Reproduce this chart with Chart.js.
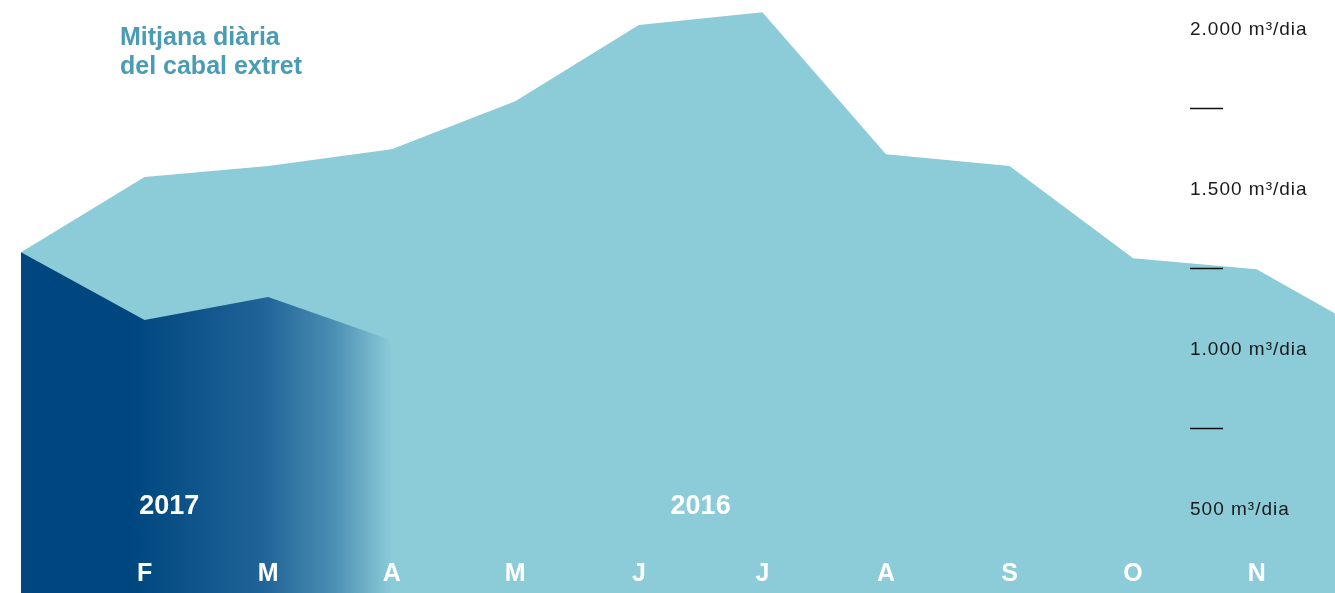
<!DOCTYPE html>
<html lang="ca">
<head>
    <meta charset="UTF-8">
    <title>Mitjana diària del cabal extret</title>
    <script src="https://cdn.jsdelivr.net/npm/chart.js"></script>
    <style>
        html, body {
            margin: 0;
            padding: 0;
            background: #fff;
            overflow: hidden;
        }
        .wrap {
            position: relative;
            width: 1335px;
            height: 593px;
        }
    </style>
</head>
<body>
    <div class="wrap">
        <canvas id="cabalChart"></canvas>
    </div>

    <script>
        // Months, starting in January (index 0)
        const months = ["J", "F", "M", "A", "M", "J", "J", "A", "S", "O", "N", "D"];

        // m3/dia
        const values2016 = [1306, 1541, 1575, 1628, 1778, 2016, 2056, 1612, 1575, 1287, 1253, 1034];
        const values2017 = [1306, 1094, 1166, 1031];

        const yTicks = [2000, 1500, 1000, 500];
        const yTickLabels = ["2.000 m³/dia", "1.500 m³/dia", "1.000 m³/dia", "500 m³/dia"];
        const yDashes = [1750, 1250, 750];

        const seriesNames = ["2017", "2016"];

        const LIGHT = '#8ccbd8';
        const DARK = '#00477f';
        const FONT = '"Liberation Sans", Arial, sans-serif';

        // Gradient for 2017 fill: dark on the left, fades into the 2016 colour
        function darkFill(context) {
            const chart = context.chart;
            const x = chart.scales.x;
            if (!chart.chartArea || !x) return DARK;
            const x0 = x.getPixelForValue(0.9);
            const x1 = x.getPixelForValue(3);
            const g = chart.ctx.createLinearGradient(x0, 0, x1, 0);
            g.addColorStop(0, DARK);
            g.addColorStop(0.5, '#1f6398');
            g.addColorStop(0.78, '#4b8fb3');
            g.addColorStop(1, LIGHT);
            return g;
        }

        const labelsPlugin = {
            id: 'labels',
            afterDatasetsDraw(chart) {
                const { ctx, chartArea } = chart;
                const x = chart.scales.x;
                const y = chart.scales.y;
                ctx.save();

                // title
                ctx.fillStyle = '#4a9bb4';
                ctx.font = 'bold 25px ' + FONT;
                ctx.textAlign = 'left';
                ctx.textBaseline = 'middle';
                ctx.fillText('Mitjana diària', 120, 38);
                ctx.fillText('del cabal extret', 120, 67);

                // right-hand value labels
                ctx.fillStyle = '#1a1a1a';
                ctx.font = '19px ' + FONT;
                ctx.letterSpacing = '1px';
                yTicks.forEach((v, i) => {
                    ctx.fillText(yTickLabels[i], 1190, y.getPixelForValue(v));
                });
                ctx.letterSpacing = '0px';
                ctx.strokeStyle = '#111';
                ctx.lineWidth = 1.5;
                yDashes.forEach(v => {
                    const py = Math.round(y.getPixelForValue(v)) - 1.5;
                    ctx.beginPath();
                    ctx.moveTo(1190, py);
                    ctx.lineTo(1223, py);
                    ctx.stroke();
                });

                // month letters
                ctx.fillStyle = '#fff';
                ctx.textAlign = 'center';
                ctx.font = 'bold 25px ' + FONT;
                months.forEach((m, i) => {
                    const px = x.getPixelForValue(i);
                    if (px < chartArea.left + 40 || px > chartArea.right - 20) return;
                    ctx.fillText(m, px, chartArea.bottom - 19);
                });

                // year labels
                ctx.font = 'bold 27px ' + FONT;
                ctx.fillText(seriesNames[0], x.getPixelForValue(1.2), y.getPixelForValue(510));
                ctx.fillText(seriesNames[1], x.getPixelForValue(5.5), y.getPixelForValue(510));
                ctx.restore();
            }
        };

        const ctx = document.getElementById('cabalChart').getContext('2d');
        const cabalChart = new Chart(ctx, {
            type: 'line',
            data: {
                datasets: [
                    {
                        label: seriesNames[0],
                        data: values2017.map((v, i) => ({ x: i, y: v })),
                        backgroundColor: darkFill,
                        borderWidth: 0,
                        pointRadius: 0,
                        fill: 'start',
                        tension: 0
                    },
                    {
                        label: seriesNames[1],
                        data: values2016.map((v, i) => ({ x: i, y: v })),
                        backgroundColor: LIGHT,
                        borderWidth: 0,
                        pointRadius: 0,
                        fill: 'start',
                        tension: 0
                    }
                ]
            },
            options: {
                responsive: true,
                maintainAspectRatio: false,
                animation: false,
                layout: { padding: { left: 21, right: 0, top: 0, bottom: 0 } },
                scales: {
                    x: { type: 'linear', min: 0, max: 10.634, display: false },
                    y: { min: 241, max: 2094, display: false }
                },
                plugins: {
                    legend: { display: false },
                    tooltip: { enabled: false }
                }
            },
            plugins: [labelsPlugin]
        });
    </script>
</body>
</html>
